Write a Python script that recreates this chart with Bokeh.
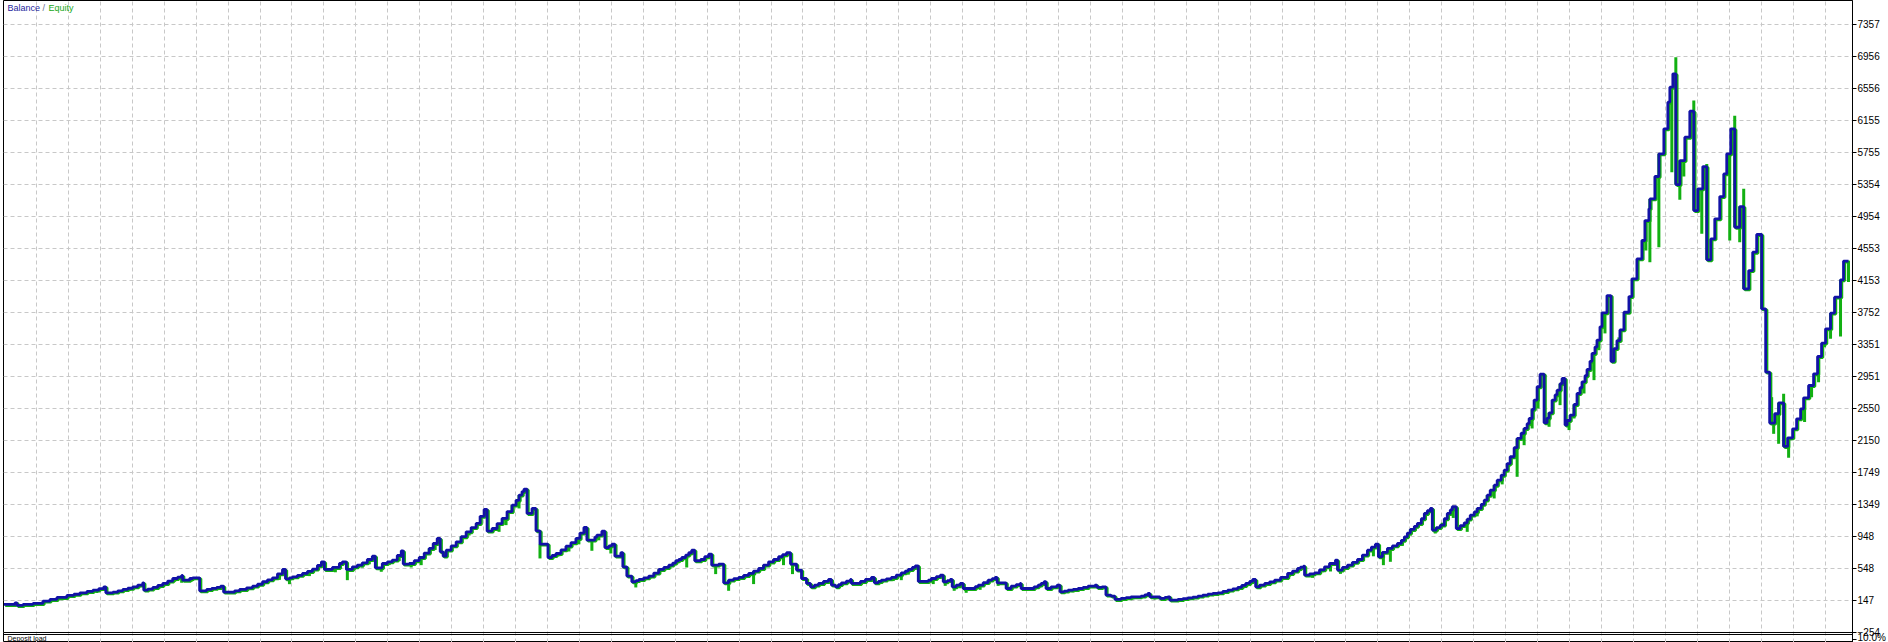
import numpy as np
from bokeh.plotting import figure
from bokeh.models import Range1d, FixedTicker, Grid, Label, Span
from bokeh.embed import file_html
from bokeh.resources import INLINE

# ---- data (trade number -> balance after that trade) ----
trade = [
    4, 15, 17, 23, 33, 43, 50, 57, 67, 74, 80, 87, 93, 99, 104, 106, 113, 118, 123, 128, 133, 138, 143, 144,
    148, 153, 158, 163, 168, 173, 178, 182, 183, 190, 193, 200, 207, 212, 217, 221, 224, 235, 240, 247, 253,
    258, 263, 268, 273, 278, 283, 286, 290, 293, 298, 303, 308, 313, 318, 322, 325,
    333, 340, 343, 347, 353, 358, 363, 368, 373, 376, 383, 388, 393, 398, 402, 404, 410, 415, 420, 425, 430,
    434, 438, 441, 444, 447, 452, 457, 462, 467, 472, 477, 481, 485, 488, 493, 498, 503, 508, 513, 517, 520,
    523, 525, 528, 533, 537, 541, 549, 553, 557, 562, 567, 572, 577, 581, 585, 588, 596, 598, 603, 606, 610,
    613, 616, 622, 624, 628, 633, 637, 640, 645,
    650, 655, 660, 665, 670, 674, 677, 680, 683, 687, 690, 693, 696, 702, 706, 710, 713, 720, 725, 730, 735,
    740, 745, 750, 755, 760, 765, 770, 775, 780, 784, 788, 792, 798, 803, 808, 812, 816, 820, 825, 830, 833,
    837, 840, 843, 848, 852, 853, 862, 867, 873, 876, 880, 883, 888, 893, 898, 903, 907, 910, 914, 917, 920,
    930, 933, 938, 942, 945, 949, 952, 954, 958, 962, 965,
    977, 980, 985, 990, 994, 997, 999, 1008, 1013, 1018, 1022, 1023, 1036, 1040, 1043, 1046, 1048, 1053, 1059,
    1062, 1066, 1070, 1075, 1080, 1085, 1090, 1097, 1099, 1104, 1108, 1113, 1117, 1123, 1128, 1133, 1143, 1147,
    1150, 1152, 1162, 1167, 1170, 1172, 1180, 1185, 1190, 1195, 1200, 1205, 1210, 1215, 1220, 1225, 1230, 1235,
    1240, 1244, 1248, 1252, 1255, 1258, 1262, 1267, 1272, 1277, 1283,
    1290, 1295, 1300, 1303, 1306, 1307, 1312, 1317, 1322, 1327, 1332, 1338, 1340, 1345, 1350, 1355, 1360, 1365,
    1370, 1374, 1378, 1381, 1385, 1390, 1395, 1400, 1404, 1407, 1410, 1413, 1417, 1420, 1424, 1427, 1430, 1433,
    1435, 1439, 1443, 1447, 1450, 1453, 1455, 1459, 1463, 1467, 1470, 1473, 1477, 1480, 1484, 1487, 1490, 1493,
    1497, 1500, 1504, 1507, 1510, 1513, 1517, 1520, 1524, 1527, 1530, 1532, 1535, 1537, 1540, 1543, 1547, 1550,
    1552, 1555, 1558, 1560, 1563, 1565, 1568, 1570, 1573, 1577, 1580, 1583, 1585, 1588, 1590, 1593, 1595, 1598,
    1600, 1603, 1605, 1610, 1614, 1617, 1620, 1623, 1627, 1632, 1635, 1640, 1645, 1648, 1652, 1653, 1658, 1662,
    1667, 1671, 1673, 1676, 1679, 1683, 1688, 1693, 1697, 1701, 1706, 1710, 1714, 1718, 1723, 1727, 1730, 1734,
    1738, 1743, 1747, 1752, 1756, 1760, 1765, 1769, 1773, 1778, 1782, 1787, 1791, 1796, 1800, 1804, 1807, 1812,
    1817, 1821, 1825, 1829, 1834, 1838, 1844, 1847, 1852,
]
balance = [
    97, 118, 85, 97, 110, 139, 160, 185, 210, 225, 243, 260, 276, 296, 318, 243, 251, 268, 285, 300, 318, 340, 368, 276,
    290, 310, 335, 360, 390, 422, 440, 460, 401, 422, 430, 268, 285, 298, 310, 326, 251, 268, 285, 305, 326,
    350, 381, 405, 430, 480, 535, 418, 430, 443, 462, 485, 510, 539, 585, 631, 535,
    560, 610, 631, 535, 568, 590, 618, 660, 702, 556, 610, 630, 652, 710, 769, 602, 610, 645, 685, 740, 798,
    860, 923, 756, 702, 777, 830, 881, 945, 1006, 1060, 1111, 1200, 1286, 1015, 1048, 1110, 1174, 1260, 1340, 1400, 1466,
    1510, 1541, 1236, 1299, 1019, 852, 685, 710, 735, 780, 827, 870, 923, 990, 1061, 902, 940, 965, 1015, 810, 830,
    852, 702, 744, 568, 452, 381, 395, 410, 430,
    452, 490, 535, 560, 589, 615, 644, 660, 685, 715, 744, 777, 644, 660, 695, 727, 589, 602, 368, 402, 420,
    435, 460, 485, 515, 548, 590, 631, 660, 694, 720, 744, 602, 527, 422, 360, 318, 340, 360, 385, 410, 339,
    318, 345, 368, 390, 410, 360, 385, 410, 435, 368, 385, 402, 418, 435, 465, 493, 515, 535, 560, 581, 385,
    400, 422, 445, 464, 381, 395, 410, 318, 340, 360, 297,
    320, 339, 370, 402, 420, 435, 368, 297, 326, 345, 360, 297, 318, 339, 360, 381, 297, 318, 339,
    255, 265, 276, 285, 297, 310, 326, 339, 310, 318, 214, 201, 160, 172, 182, 193, 201, 218,
    235, 193, 172, 185, 193, 151, 160, 170, 180, 190, 201, 214, 226, 235, 243, 260, 276, 292,
    310, 335, 360, 385, 410, 318, 340, 360, 380, 402, 435,
    485, 515, 548, 565, 577, 464, 480, 493, 530, 568, 610, 652, 527, 560, 589, 625, 660, 715,
    777, 815, 852, 694, 750, 798, 830, 861, 900, 944, 990, 1036, 1075, 1111, 1170, 1236, 1270, 1299,
    1028, 1060, 1090, 1170, 1236, 1280, 1320, 1048, 1085, 1119, 1165, 1215, 1255, 1299, 1350, 1403, 1465, 1528,
    1590, 1653, 1715, 1778, 1860, 1946, 2060, 2175, 2240, 2300, 2360, 2425, 2540, 2655, 2822, 2980, 2371, 2430,
    2496, 2655, 2720, 2780, 2860, 2926, 2342, 2400, 2467, 2600, 2738, 2810, 2884, 2960, 3039, 3140, 3239, 3320,
    3406, 3573, 3748, 3964, 3140, 3300, 3400, 3534, 3755, 3951, 4173, 4423, 4653, 4903, 5049, 5174, 5454, 5738,
    6051, 6384, 6572, 6739, 5353, 5654, 5946, 6272, 5028, 5300, 5579, 4411, 4673, 4924, 5203, 5487, 5738, 6051,
    4819, 5078, 4047, 4277, 4507, 4728, 3797, 3005, 2367, 2484, 2621, 2075, 2183, 2296, 2421, 2546, 2684, 2838,
    2984, 3201, 3368, 3548, 3744, 3944, 4161, 4395, 4395,
]

# equity extremes reached while trades were open (trade number, equity)
spike_trade = [
    9, 28, 37, 47, 62, 72, 85, 97, 110, 120, 130, 150, 160, 175, 182, 192, 205, 215, 228, 238, 250, 262, 270, 280,
    290, 300, 310, 320, 336, 348, 355, 363, 370, 382, 390, 400, 412, 422, 430, 436, 445, 455, 462, 470, 480,
    500, 507, 513, 520, 541, 560, 570, 580, 593, 600, 612, 637, 645, 660, 668, 688, 700, 717, 730, 745, 755, 765,
    775, 785, 794, 815, 825, 840, 855, 870, 880, 895, 903, 910, 935, 947, 956, 962, 968, 982, 990, 1000, 1015,
    1030, 1043, 1057, 1075, 1088, 1102, 1120, 1135, 1145, 1157, 1177, 1185, 1200, 1220, 1232, 1245, 1262, 1270,
    1280, 1292, 1300, 1315, 1325, 1333, 1343, 1355, 1366, 1376, 1386, 1393, 1405, 1413, 1425, 1438, 1445, 1456,
    1470, 1480, 1490, 1497, 1505, 1512, 1520, 1527, 1535, 1541, 1552, 1563, 1572, 1577, 1587, 1597, 1602, 1608,
    1622, 1649, 1653, 1662, 1675, 1679, 1683, 1687, 1697, 1705, 1710, 1713, 1733, 1738, 1743, 1747, 1765, 1775,
    1777, 1782, 1787, 1792, 1808, 1815, 1822, 1828, 1834, 1844, 1852,
]
spike_equity = [
    80, 95, 80, 120, 150, 180, 215, 240, 225, 240, 270, 265, 300, 380, 368, 385, 250, 280, 240, 250, 290, 340, 400, 405,
    351, 440, 452, 560, 500, 401, 530, 560, 600, 506, 590, 640, 560, 589, 740, 780, 685, 820, 880, 960, 1080,
    1006, 1090, 1230, 1299, 673, 700, 760, 850, 769, 900, 735, 310, 390, 500, 530, 560, 620, 477, 268, 420, 352, 520,
    600, 589, 477, 290, 330, 330, 330, 380, 360, 390, 401, 470, 352, 330, 268, 300, 243, 280, 360, 330, 300,
    270, 320, 290, 250, 300, 280, 140, 160, 180, 160, 140, 150, 170, 220, 250, 290, 290, 340,
    410, 445, 500, 430, 500, 510, 480, 570, 640, 700, 589, 631, 830, 960, 1100, 985, 1120, 1180,
    1006, 1200, 1380, 1424, 1600, 1820, 1695, 2091, 2300, 2550, 2321, 2592, 2280, 2425, 2738, 2905, 3280, 3490,
    3440, 4527, 4381, 4569, 5508, 6948, 5162, 5454, 6405, 4736, 5612, 4394, 4653, 6214, 4632, 5300, 4737, 2692,
    2233, 2108, 2734, 1933, 2380, 2692, 2880, 3318, 3423, 3452, 4132,
]

y_ticks = [-254, 147, 548, 948, 1349, 1749, 2150, 2550, 2951, 3351, 3752, 4153, 4553, 4954,
           5354, 5755, 6155, 6556, 6956, 7357]
load_tick = -338          # axis position of the deposit-load pane's "10.0%" label
load_label = "10.0%"
x_grid = [36.5 + 32 * k for k in range(57)]

BLUE = "#1212A6"
GREEN = "#12B012"
GRID = "#C8C8C8"
FONT = "Liberation Sans"

Y_TOP = 7657.4          # value at the top edge of the chart
Y_BOTTOM = -379.2       # value at the bottom edge (the strip below -254 holds the next pane's edge)
PANE_EDGE = -279        # top border of the "Deposit load" pane

p = figure(width=1888, height=642, output_backend="svg", toolbar_location=None,
           x_range=Range1d(3.5, 1856), y_range=Range1d(Y_BOTTOM, Y_TOP),
           x_axis_location=None, y_axis_location="right",
           min_border_left=3, min_border_right=32, min_border_top=0, min_border_bottom=0)
p.background_fill_color = "white"
p.border_fill_color = "white"
p.outline_line_color = "black"
p.outline_line_width = 1

yax = p.yaxis[0]
yax.ticker = FixedTicker(ticks=y_ticks + [load_tick])
yax.major_label_overrides = {load_tick: load_label}
yax.major_tick_out = 4
yax.major_tick_in = 0
yax.minor_tick_out = 0
yax.minor_tick_in = 0
yax.major_label_standoff = 1
yax.axis_line_color = "black"
yax.major_tick_line_color = "black"
yax.major_label_text_font = FONT
yax.major_label_text_font_size = "10px"
yax.major_label_text_color = "black"

p.ygrid.ticker = FixedTicker(ticks=y_ticks)
p.ygrid.grid_line_color = GRID
p.ygrid.grid_line_dash = "4 3"
p.ygrid.grid_line_width = 1
p.xgrid.visible = False
p.add_layout(Grid(dimension=0, ticker=FixedTicker(ticks=x_grid), grid_line_color=GRID,
                  grid_line_dash="4 3", grid_line_width=1))

# double border: bottom of the balance pane and top of the deposit-load pane
p.add_layout(Span(location=y_ticks[0], dimension="width", line_color="black", line_width=1))
p.add_layout(Span(location=PANE_EDGE, dimension="width", line_color="black", line_width=1))

tr = np.array(trade, dtype=float)
bal = np.array(balance, dtype=float)
st = np.array(spike_trade, dtype=float)
idx = np.clip(np.searchsorted(tr, st, side="right") - 1, 0, len(bal) - 1)
bal_at_spike = bal[idx]

# equity (green) drawn beneath the balance line
p.segment(x0=st, y0=bal_at_spike, x1=st, y1=spike_equity, line_color=GREEN, line_width=3)
p.step(tr + 1.2, bal - 12, mode="after", line_color=GREEN, line_width=3)
p.step(tr, bal, mode="after", line_color=BLUE, line_width=2.8)

# legend text
lab_kw = dict(x=3.5, y=Y_TOP, y_offset=-2, text_baseline="top", text_font=FONT, text_font_size="9px")
p.add_layout(Label(x_offset=4, text="Balance", text_color="#1E1E9C", **lab_kw))
p.add_layout(Label(x_offset=39, text="/", text_color="#6A6A8A", **lab_kw))
p.add_layout(Label(x_offset=45, text="Equity", text_color="#18A818", **lab_kw))

# title of the deposit-load pane peeking in at the bottom
p.add_layout(Label(x=3.5, y=PANE_EDGE, x_offset=4, y_offset=-1, text="Deposit load", text_baseline="top",
                   text_font=FONT, text_font_size="7px", text_color="black"))

open("out.html", "w").write(file_html(p, INLINE))
